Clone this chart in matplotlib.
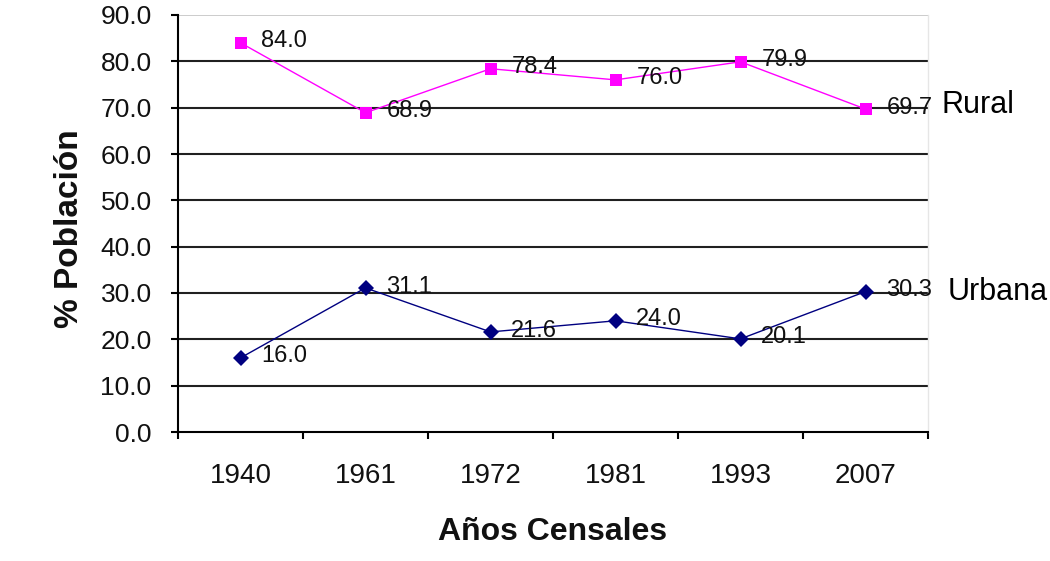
import matplotlib
matplotlib.use("Agg")
import matplotlib.pyplot as plt
from matplotlib.ticker import FixedLocator, FixedFormatter, NullFormatter

plt.rcParams['font.family'] = ['Liberation Sans', 'DejaVu Sans']

# Census years and share of population (%) by area
years = ["1940", "1961", "1972", "1981", "1993", "2007"]
rural = [84.0, 68.9, 78.4, 76.0, 79.9, 69.7]
urbana = [16.0, 31.1, 21.6, 24.0, 20.1, 30.3]
series_names = ["Rural", "Urbana"]
y_ticks = [0, 10, 20, 30, 40, 50, 60, 70, 80, 90]

fig = plt.figure(figsize=(10.5, 5.61), dpi=100)
ax = fig.add_axes([178 / 1050, 1 - 432 / 561, 750 / 1050, 417 / 561])

x = list(range(len(years)))
text_color = "#111111"

# horizontal grid: dark lines, the top one light grey
for v in y_ticks[1:-1]:
    ax.axhline(v, color="#202020", lw=1.5, zorder=1)
ax.axhline(y_ticks[-1], color="#c4c4c4", lw=1.2, zorder=1)

ax.plot(x, rural, color="#ff00ff", lw=1.0, marker="s", markersize=9,
        markeredgewidth=0, zorder=3)
ax.plot(x, urbana, color="#000080", lw=1.0, marker="D", markersize=8,
        markeredgewidth=0, zorder=3)

# value labels beside each point
for xi, v in zip(x, rural):
    ax.annotate(f"{v:.1f}", (xi, v), xytext=(15, 1), textcoords="offset points",
                ha="left", va="center", fontsize=17, color=text_color, zorder=4)
for xi, v in zip(x, urbana):
    ax.annotate(f"{v:.1f}", (xi, v), xytext=(15, 1), textcoords="offset points",
                ha="left", va="center", fontsize=17, color=text_color, zorder=4)

# series names after the last point
ax.annotate(series_names[0], (x[-1], rural[-1]), xytext=(55, 3),
            textcoords="offset points", ha="left", va="center",
            fontsize=22, color="black", annotation_clip=False)
ax.annotate(series_names[1], (x[-1], urbana[-1]), xytext=(59, 0),
            textcoords="offset points", ha="left", va="center",
            fontsize=22, color="black", annotation_clip=False)

ax.set_xlim(-0.5, len(years) - 0.5)
ax.set_ylim(0, 90)

# x axis: tick marks on category boundaries, labels at category centres
ax.xaxis.set_major_locator(FixedLocator([i - 0.5 for i in range(len(years) + 1)]))
ax.xaxis.set_major_formatter(NullFormatter())
ax.xaxis.set_minor_locator(FixedLocator(x))
ax.xaxis.set_minor_formatter(FixedFormatter(years))
ax.tick_params(axis="x", which="major", direction="out", length=5, width=1.5,
               color="black")
ax.tick_params(axis="x", which="minor", length=0, pad=22, labelsize=20,
               labelcolor=text_color)

ax.set_yticks(y_ticks)
ax.set_yticklabels([f"{v:.1f}" for v in y_ticks])
ax.tick_params(axis="y", direction="out", length=5, width=1.5, color="black",
               pad=14, labelsize=19, labelcolor=text_color)

ax.spines["top"].set_visible(False)
ax.spines["right"].set_color("#e6e6e6")
ax.spines["right"].set_linewidth(1.0)
ax.spines["left"].set_linewidth(1.5)
ax.spines["bottom"].set_linewidth(1.5)
ax.spines["left"].set_color("black")
ax.spines["bottom"].set_color("black")

ax.set_xlabel("Años Censales", fontsize=23, fontweight="bold", color=text_color)
ax.xaxis.set_label_coords(0.5, -0.205)
ax.set_ylabel("% Población", fontsize=24, fontweight="bold", color=text_color)
ax.yaxis.set_label_coords(-0.124, 0.487)

fig.savefig("out.png", dpi=100)
